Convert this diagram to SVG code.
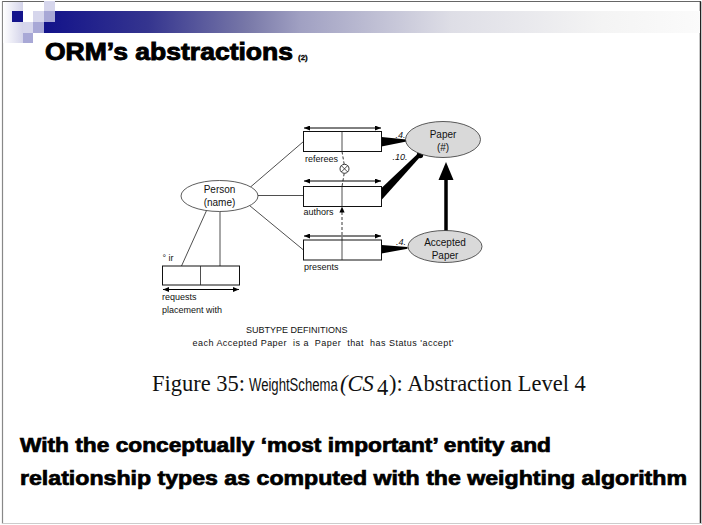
<svg xmlns="http://www.w3.org/2000/svg" width="702" height="525" viewBox="0 0 702 525">
  <defs>
    <linearGradient id="barGrad" x1="43" y1="0" x2="702" y2="0" gradientUnits="userSpaceOnUse">
      <stop offset="0" stop-color="#12128a"/>
      <stop offset="0.16" stop-color="#35358f"/>
      <stop offset="0.31" stop-color="#7878a8"/>
      <stop offset="0.39" stop-color="#a0a0c2"/>
      <stop offset="0.62" stop-color="#dedee6"/>
      <stop offset="0.85" stop-color="#f4f4f4"/>
      <stop offset="1" stop-color="#fbfbfb"/>
    </linearGradient>
    <linearGradient id="colGrad" x1="3" y1="0" x2="23" y2="0" gradientUnits="userSpaceOnUse">
      <stop offset="0" stop-color="#ffffff"/>
      <stop offset="1" stop-color="#d4d4ea"/>
    </linearGradient>
    <marker id="tip" viewBox="0 0 6 5" refX="6" refY="2.5" markerWidth="6" markerHeight="5" markerUnits="userSpaceOnUse" orient="auto-start-reverse">
      <path d="M0,0 L6,2.5 L0,5 z" fill="#000"/>
    </marker>
    <style>
      .lbl { font-family: "Liberation Sans", Arial, sans-serif; font-size: 9px; fill: #111; }
      .ent { font-family: "Liberation Sans", Arial, sans-serif; font-size: 10px; fill: #111; text-anchor: middle; }
      .wt  { font-family: "Liberation Sans", Arial, sans-serif; font-size: 9px; font-style: italic; fill: #111; }
      .ln  { stroke: #222; stroke-width: 0.8; fill: none; }
      .box { fill: #fff; stroke: #111; stroke-width: 1; }
      .span { stroke: #000; stroke-width: 1; fill: none; marker-start: url(#tip); marker-end: url(#tip); }
      .dash { stroke: #222; stroke-width: 0.9; fill: none; stroke-dasharray: 3 2; }
      .heavy { font-family: "Liberation Sans", Arial, sans-serif; font-weight: bold; fill: #000; stroke: #000; }
      .cap { font-family: "Liberation Serif", "Times New Roman", serif; font-size: 22.5px; fill: #111; }
    </style>
  </defs>

  <!-- slide background and frame -->
  <rect x="0" y="0" width="702" height="525" fill="#fff"/>
  <line x1="2" y1="1.5" x2="701" y2="1.5" stroke="#666" stroke-width="1"/>
  <line x1="2.5" y1="1.5" x2="2.5" y2="524" stroke="#888" stroke-width="1.2"/>
  <line x1="700.5" y1="1.5" x2="700.5" y2="524" stroke="#222" stroke-width="1.5"/>
  <line x1="2" y1="523.5" x2="701" y2="523.5" stroke="#ccc" stroke-width="1.2"/>

  <!-- header decoration -->
  <g id="header">
    <rect x="3" y="2" width="20" height="41" fill="url(#colGrad)"/>
    <rect x="43" y="11" width="657" height="22" fill="url(#barGrad)"/>
    <rect x="12" y="11" width="11" height="11" fill="#14148c"/>
    <rect x="33" y="11" width="11" height="11" fill="#d6d6ec"/>
    <rect x="44" y="1" width="11" height="10" fill="#d6d6ec"/>
    <rect x="44" y="11" width="11" height="11" fill="#a8a8d6"/>
    <rect x="23" y="22" width="10" height="11" fill="#d6d6ec"/>
    <rect x="33" y="22" width="11" height="11" fill="#a8a8d6"/>
    <rect x="23" y="33" width="10" height="10" fill="#a8a8d6"/>
  </g>

  <!-- title -->
  <g id="title">
    <text class="heavy" x="45" y="60" font-size="23" stroke-width="0.9" textLength="248" lengthAdjust="spacingAndGlyphs">ORM’s abstractions</text>
    <text class="heavy" x="298" y="60" font-size="8" stroke-width="0.3">(2)</text>
  </g>

  <!-- connectors -->
  <g id="connectors">
    <!-- Person to role boxes -->
    <line class="ln" x1="250.5" y1="187" x2="303.5" y2="141.5"/>
    <line class="ln" x1="258" y1="195.5" x2="303.5" y2="195.5"/>
    <line class="ln" x1="249.5" y1="205.5" x2="303.5" y2="250"/>
    <line class="ln" x1="206.5" y1="210.6" x2="181.5" y2="266"/>
    <line class="ln" x1="220" y1="211.5" x2="220" y2="266"/>

    <!-- exclusion constraint between referees and authors -->
    <line class="dash" x1="342" y1="151.5" x2="344.2" y2="164.3"/>
    <line class="dash" x1="344.2" y1="173.3" x2="342" y2="186.5"/>
    <circle cx="344.5" cy="168.8" r="4.5" fill="#fff" stroke="#222" stroke-width="0.9"/>
    <line x1="341.3" y1="165.6" x2="347.7" y2="172" stroke="#222" stroke-width="0.8"/>
    <line x1="347.7" y1="165.6" x2="341.3" y2="172" stroke="#222" stroke-width="0.8"/>

    <!-- subset constraint presents -> authors -->
    <line class="dash" x1="342" y1="240" x2="342" y2="211"/>
    <polygon points="342,206.5 339.4,212.5 344.6,212.5" fill="#000"/>

    <!-- weighted role connectors -->
    <polygon points="381.5,137 406.5,139.5 406.5,141.5 381.5,146.5" fill="#000"/>
    <polygon points="381.5,188 418,153.5 420.5,156.5 381.5,200" fill="#000"/>
    <circle cx="420" cy="155" r="3.2" fill="#000"/>
    <polygon points="381.5,245 407.5,247 407.5,248.8 381.5,253.5" fill="#000"/>

    <!-- subtype arrow Accepted Paper -> Paper -->
    <line x1="446" y1="231" x2="446" y2="178" stroke="#000" stroke-width="3.5"/>
    <polygon points="446,162 438.5,180 453.5,180" fill="#000"/>
  </g>

  <!-- entity types -->
  <g id="person">
    <ellipse cx="219.5" cy="196" rx="38.5" ry="15.5" fill="#fff" stroke="#333" stroke-width="0.8"/>
    <text class="ent" x="219.5" y="193">Person</text>
    <text class="ent" x="219.5" y="205.5">(name)</text>
  </g>
  <g id="paper">
    <ellipse cx="443" cy="139.5" rx="37.5" ry="18" fill="#d9d9d9" stroke="#333" stroke-width="0.8"/>
    <text class="ent" x="443" y="138">Paper</text>
    <text class="ent" x="443" y="151">(#)</text>
  </g>
  <g id="accepted-paper">
    <ellipse cx="445" cy="246.5" rx="37" ry="16" fill="#d9d9d9" stroke="#333" stroke-width="0.8"/>
    <text class="ent" x="445" y="246">Accepted</text>
    <text class="ent" x="445" y="258.5">Paper</text>
  </g>

  <!-- fact types -->
  <g id="referees">
    <line class="span" x1="304" y1="128" x2="381" y2="128"/>
    <rect class="box" x="303.5" y="131.5" width="78" height="20"/>
    <line class="ln" x1="342" y1="131.5" x2="342" y2="151.5"/>
    <text class="lbl" x="305" y="161.5">referees</text>
    <text class="wt" x="395.5" y="137.5">.4.</text>
  </g>
  <g id="authors">
    <line class="span" x1="304" y1="181" x2="381" y2="181"/>
    <rect class="box" x="303.5" y="186.5" width="78" height="20"/>
    <line class="ln" x1="342" y1="186.5" x2="342" y2="206.5"/>
    <text class="lbl" x="303.5" y="214.5">authors</text>
    <text class="wt" x="392.5" y="160">.10.</text>
  </g>
  <g id="presents">
    <line class="span" x1="304" y1="236" x2="381" y2="236"/>
    <rect class="box" x="303.5" y="240" width="78" height="20"/>
    <line class="ln" x1="342" y1="240" x2="342" y2="260"/>
    <text class="lbl" x="304" y="269.5">presents</text>
    <text class="wt" x="396" y="244.5">.4.</text>
  </g>
  <g id="requests">
    <text class="lbl" x="162.5" y="260.5">° ir</text>
    <rect class="box" x="162.5" y="266" width="77" height="19"/>
    <line class="ln" x1="200.5" y1="266" x2="200.5" y2="285"/>
    <line class="span" x1="163" y1="289.5" x2="239" y2="289.5"/>
    <text class="lbl" x="162" y="299.5">requests</text>
    <text class="lbl" x="162" y="313">placement with</text>
  </g>

  <!-- subtype definitions -->
  <g id="subtype-definitions">
    <text class="lbl" x="246" y="332.5">SUBTYPE DEFINITIONS</text>
    <text class="lbl" x="192.5" y="345.5" xml:space="preserve" textLength="261" lengthAdjust="spacing">each Accepted Paper  is a  Paper  that  has Status 'accept'</text>
  </g>

  <!-- figure caption -->
  <g id="caption">
    <text class="cap" x="152" y="391">Figure 35:</text>
    <text transform="translate(249,391) scale(0.71,1)" x="0" y="0" font-family="'Liberation Sans', Arial, sans-serif" font-size="18.5" fill="#111">WeightSchema</text>
    <text class="cap" x="340" y="391" font-style="italic">(CS</text>
    <text class="cap" x="377" y="395" font-size="14">4</text>
    <text class="cap" x="389" y="391">): Abstraction Level 4</text>
  </g>

  <!-- summary text -->
  <g id="summary">
    <text class="heavy" x="20" y="452" font-size="20" stroke-width="0.7" textLength="531" lengthAdjust="spacingAndGlyphs">With the conceptually ‘most important’ entity and</text>
    <text class="heavy" x="20" y="485" font-size="20" stroke-width="0.7" textLength="667" lengthAdjust="spacingAndGlyphs">relationship types as computed with the weighting algorithm</text>
  </g>
</svg>
